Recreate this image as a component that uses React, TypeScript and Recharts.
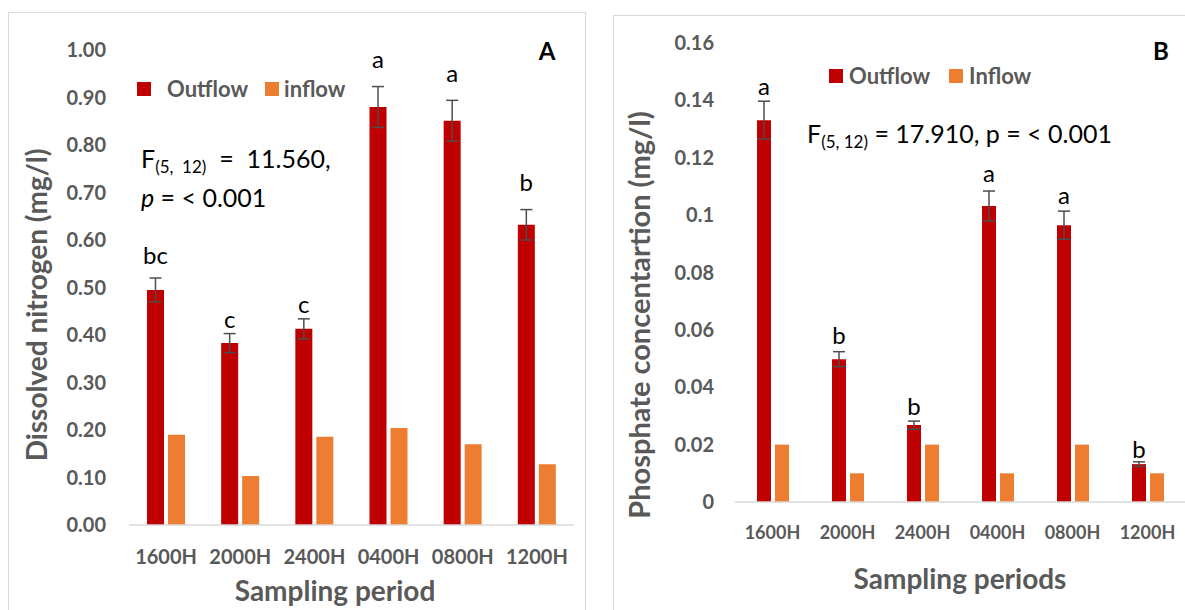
import React from "react";
import { BarChart, Bar, XAxis, YAxis, ErrorBar, LabelList, Legend } from "recharts";

const FONT = "Lato, 'Open Sans', sans-serif";
const GRAY = "#595959";
const RED = "#C00000";
const ORANGE = "#ED7D31";

const periods = ["1600H", "2000H", "2400H", "0400H", "0800H", "1200H"];

// panel A: dissolved nitrogen (mg/l)
const nitrogenOutflow = [0.495, 0.383, 0.413, 0.88, 0.851, 0.632];
const nitrogenOutflowErr = [0.025, 0.02, 0.021, 0.043, 0.043, 0.032];
const nitrogenInflow = [0.19, 0.103, 0.186, 0.204, 0.17, 0.128];
const nitrogenLetters = ["bc", "c", "c", "a", "a", "b"];
const nitrogenTicks = [0, 0.1, 0.2, 0.3, 0.4, 0.5, 0.6, 0.7, 0.8, 0.9, 1.0];

// panel B: phosphate (mg/l)
const phosphateOutflow = [0.1331, 0.0498, 0.0268, 0.1032, 0.0965, 0.0132];
const phosphateOutflowErr = [0.0066, 0.0026, 0.0014, 0.0052, 0.0049, 0.0008];
const phosphateInflow = [0.02, 0.01, 0.02, 0.01, 0.02, 0.01];
const phosphateLetters = ["a", "b", "b", "a", "a", "b"];
const phosphateTicks = [0, 0.02, 0.04, 0.06, 0.08, 0.1, 0.12, 0.14, 0.16];

const seriesOrder = ["out", "inf"];

type Row = { period: string; out: number; outErr: number; inf: number; letter: string };

const buildRows = (out: number[], err: number[], inf: number[], letters: string[]): Row[] =>
  periods.map((p, i) => ({ period: p, out: out[i], outErr: err[i], inf: inf[i], letter: letters[i] }));

const nitrogenRows = buildRows(nitrogenOutflow, nitrogenOutflowErr, nitrogenInflow, nitrogenLetters);
const phosphateRows = buildRows(phosphateOutflow, phosphateOutflowErr, phosphateInflow, phosphateLetters);

// letters sit above the error bar cap; gaps differ a bit as in the original
const makeLetter = (rows: Row[], gaps: number[]) => (props: any) => {
  const { x, y, width, height, index, value } = props;
  const r = rows[index];
  const errPx = r.out ? (r.outErr * height) / r.out : 0;
  return (
    <text
      x={x + width / 2}
      y={y - errPx - gaps[index]}
      textAnchor="middle"
      fontFamily={FONT}
      fontSize={24}
      fill="#000"
    >
      {value}
    </text>
  );
};

const makeLegend = (iconGaps: number[], itemGap: number) => (props: any) => {
  const items = [...(props.payload || [])].sort(
    (a: any, b: any) => seriesOrder.indexOf(a.dataKey) - seriesOrder.indexOf(b.dataKey)
  );
  return (
    <div style={{ display: "flex", alignItems: "center", fontFamily: FONT, fontWeight: 700, fontSize: 22, color: GRAY, whiteSpace: "nowrap" }}>
      {items.map((it: any, i: number) => (
        <div key={i} style={{ display: "flex", alignItems: "center", marginRight: i === 0 ? itemGap : 0 }}>
          <span style={{ width: 14, height: 14, background: it.color, display: "inline-block", marginRight: iconGaps[i] }} />
          <span>{it.value}</span>
        </div>
      ))}
    </div>
  );
};

type PanelProps = {
  rows: Row[];
  left: number;
  width: number;
  margin: { top: number; right: number; bottom: number; left: number };
  ticks: number[];
  domain: [number, number];
  fmt: (v: number) => string;
  barSize: number;
  xFont: number;
  yMargin: number;
  xMargin: number;
  letterGaps: number[];
  legendPos: { left: number; top: number };
  legendIconGaps: number[];
  legendItemGap: number;
  inflowName: string;
};

const Panel = (p: PanelProps) => (
  <div style={{ position: "absolute", left: p.left, top: 0 }}>
    <BarChart width={p.width} height={610} data={p.rows} margin={p.margin} barGap={4}>
      <XAxis
        dataKey="period"
        axisLine={{ stroke: "#D9D9D9", strokeWidth: 1.5 }}
        tickLine={false}
        tickSize={0}
        tickMargin={p.xMargin}
        height={60}
        interval={0}
        tick={{ fill: GRAY, fontSize: p.xFont, fontWeight: 700, fontFamily: FONT }}
      />
      <YAxis
        domain={p.domain}
        ticks={p.ticks}
        interval={0}
        tickFormatter={p.fmt}
        axisLine={false}
        tickLine={false}
        tickSize={0}
        tickMargin={p.yMargin}
        width={60}
        tick={{ fill: GRAY, fontSize: 20, fontWeight: 700, fontFamily: FONT }}
      />
      {/* middle/center keeps the legend from eating into the plot area */}
      <Legend
        layout="horizontal"
        verticalAlign="middle"
        align="center"
        content={makeLegend(p.legendIconGaps, p.legendItemGap)}
        wrapperStyle={{ left: p.legendPos.left, top: p.legendPos.top, width: "auto", height: "auto" }}
      />
      <Bar dataKey="out" name="Outflow" fill={RED} barSize={p.barSize} isAnimationActive={false}>
        <ErrorBar dataKey="outErr" width={6} stroke="#4D4D4D" strokeWidth={1.5} direction="y" />
        <LabelList dataKey="letter" content={makeLetter(p.rows, p.letterGaps)} />
      </Bar>
      <Bar dataKey="inf" name={p.inflowName} fill={ORANGE} barSize={p.barSize} isAnimationActive={false} />
    </BarChart>
  </div>
);

const titleStyle = { fontFamily: FONT, fontWeight: 700, fontSize: 28, fill: GRAY } as const;
const statStyle = { fontFamily: FONT, fontSize: 25, fill: "#000", whiteSpace: "pre" } as const;

export default function App() {
  return (
    <div style={{ position: "absolute", left: 0, top: 0, width: 1185, height: 610, overflow: "hidden", background: "#fff" }}>
      <div style={{ position: "absolute", left: 8, top: 12, width: 576, height: 620, border: "1.5px solid #D9D9D9" }} />
      <div style={{ position: "absolute", left: 613, top: 15, width: 620, height: 620, border: "1.5px solid #D9D9D9" }} />

      <Panel
        rows={nitrogenRows}
        left={0}
        width={590}
        margin={{ top: 50, right: 16, bottom: 25, left: 69 }}
        ticks={nitrogenTicks}
        domain={[0, 1]}
        fmt={(v) => v.toFixed(2)}
        barSize={17}
        xFont={20}
        yMargin={23}
        xMargin={25}
        letterGaps={[14, 6, 6, 19, 18, 19]}
        legendPos={{ left: 137, top: 75 }}
        legendIconGaps={[16, 5]}
        legendItemGap={17}
        inflowName="inflow"
      />
      <Panel
        rows={phosphateRows}
        left={600}
        width={585}
        margin={{ top: 43, right: 0, bottom: 48, left: 75 }}
        ticks={phosphateTicks}
        domain={[0, 0.16]}
        fmt={(v) => String(Number(v.toFixed(2)))}
        barSize={14}
        xFont={18}
        yMargin={21}
        xMargin={24}
        letterGaps={[6, 8, 6, 9, 7, 4]}
        legendPos={{ left: 229, top: 62 }}
        legendIconGaps={[6, 6]}
        legendItemGap={19}
        inflowName="Inflow"
      />

      <svg width={1185} height={610} style={{ position: "absolute", left: 0, top: 0, pointerEvents: "none" }}>
        <text x={36} y={305} transform="rotate(-90 36 305)" textAnchor="middle" dominantBaseline="central" style={titleStyle}>
          Dissolved nitrogen (mg/l)
        </text>
        <text x={335} y={590} textAnchor="middle" dominantBaseline="central" style={titleStyle}>
          Sampling period
        </text>
        <text x={638} y={315} transform="rotate(-90 638 315)" textAnchor="middle" dominantBaseline="central" style={{ ...titleStyle, fontSize: 29 }}>
          Phosphate concentartion (mg/l)
        </text>
        <text x={960} y={578} textAnchor="middle" dominantBaseline="central" style={titleStyle}>
          Sampling periods
        </text>

        <text x={141} y={168} style={statStyle}>
          F<tspan fontSize={17} dy={5}>(5,  12)</tspan>
          <tspan dy={-5}>{"  =  11.560,"}</tspan>
        </text>
        <text x={141} y={207} style={statStyle}>
          <tspan fontStyle="italic">p</tspan>
          {" = < 0.001"}
        </text>
        <text x={807} y={143} style={statStyle}>
          F<tspan fontSize={17} dy={5}>(5, 12)</tspan>
          <tspan dy={-5}>{" = 17.910, p = < 0.001"}</tspan>
        </text>

        <text x={547} y={60} textAnchor="middle" fontFamily={FONT} fontWeight={700} fontSize={24} fill="#000">A</text>
        <text x={1161} y={60} textAnchor="middle" fontFamily={FONT} fontWeight={700} fontSize={24} fill="#000">B</text>
      </svg>
    </div>
  );
}
